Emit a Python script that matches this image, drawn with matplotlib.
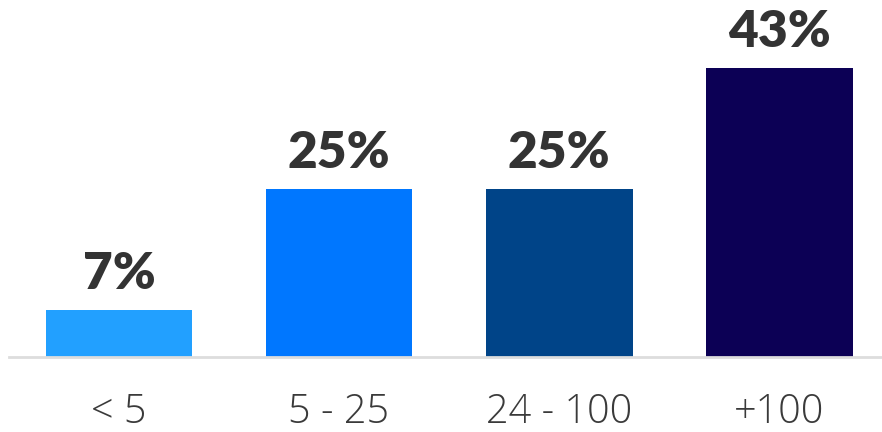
import matplotlib.pyplot as plt

categories = ['< 5', '5 - 25', '24 - 100', '+100']
values = [7, 25, 25, 43]
colors = ['#22A0FF', '#0077FF', '#004488', '#0C0055']

fig = plt.figure(figsize=(8.82, 4.32), dpi=100)
ax = fig.add_axes([9 / 882, 75 / 432, 873 / 882, 357 / 432])

x = range(len(categories))
bars = ax.bar(x, values, width=0.668, color=colors)

for b, v in zip(bars, values):
    ax.annotate(f'{v}%', (b.get_x() + b.get_width() / 2, v),
                xytext=(0, 9), textcoords='offset points',
                ha='center', va='bottom', fontsize=37,
                fontweight='heavy', family='Lato', color='#333333')

ax.set_xlim(-0.5, 3.468)
ax.set_ylim(0, 53.1)
ax.set_xticks(list(x))
ax.set_xticklabels(categories, fontsize=28.5, family='Open Sans',
                   fontweight='light', color='#3a3a3a')
ax.tick_params(axis='x', length=0, pad=25)
ax.set_yticks([])
for s in ['top', 'right', 'left']:
    ax.spines[s].set_visible(False)
ax.spines['bottom'].set_color('#dddddd')
ax.spines['bottom'].set_linewidth(2)

fig.savefig('out.png', dpi=100)
